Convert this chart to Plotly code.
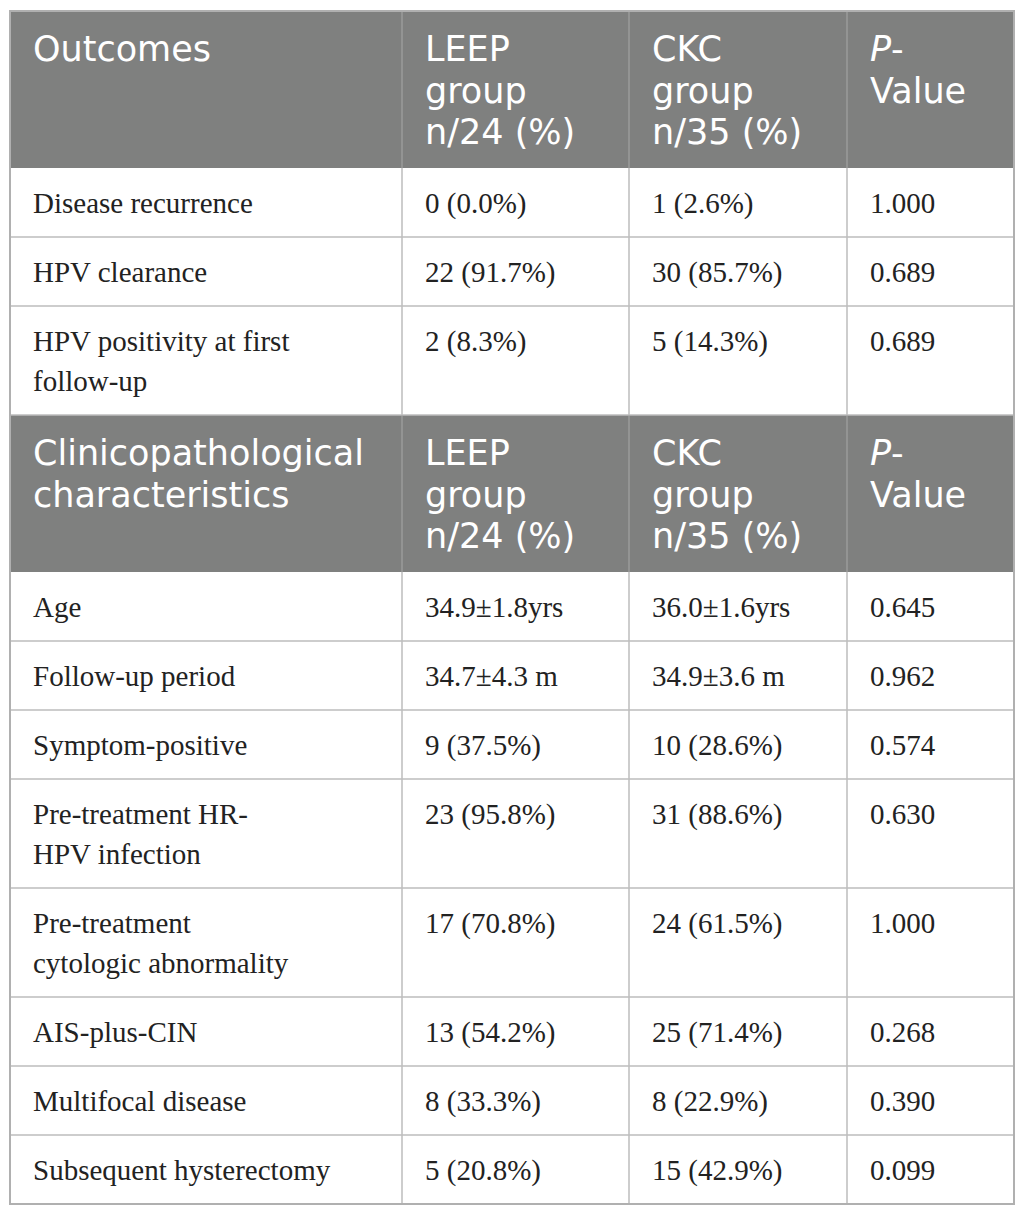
import plotly.graph_objects as go

# table content
header_outcomes = ["Outcomes", "LEEP<br>group<br>n/24 (%)", "CKC<br>group<br>n/35 (%)", "<i>P</i>-<br>Value"]
outcome_labels = ["Disease recurrence", "HPV clearance", "HPV positivity at first<br>follow-up"]
outcome_leep = ["0 (0.0%)", "22 (91.7%)", "2 (8.3%)"]
outcome_ckc = ["1 (2.6%)", "30 (85.7%)", "5 (14.3%)"]
outcome_p = ["1.000", "0.689", "0.689"]

header_clin = ["Clinicopathological<br>characteristics", "LEEP<br>group<br>n/24 (%)",
               "CKC<br>group<br>n/35 (%)", "<i>P</i>-<br>Value"]
clin_labels = ["Age", "Follow-up period", "Symptom-positive", "Pre-treatment HR-<br>HPV infection",
               "Pre-treatment<br>cytologic abnormality", "AIS-plus-CIN", "Multifocal disease",
               "Subsequent hysterectomy"]
clin_leep = ["34.9±1.8yrs", "34.7±4.3 m", "9 (37.5%)", "23 (95.8%)", "17 (70.8%)",
             "13 (54.2%)", "8 (33.3%)", "5 (20.8%)"]
clin_ckc = ["36.0±1.6yrs", "34.9±3.6 m", "10 (28.6%)", "31 (88.6%)", "24 (61.5%)",
            "25 (71.4%)", "8 (22.9%)", "15 (42.9%)"]
clin_p = ["0.645", "0.962", "0.574", "0.630", "1.000", "0.268", "0.390", "0.099"]

# layout settings (page pixels); the html body has an 8px margin
PAGE_W, PAGE_H = 1025, 1217
BODY_MARGIN = 8
col_edges = [10, 402, 629, 847, 1014]
top = 11
pad_x = 22
body_row = 69
body_line = 40
head_row = 157
head_line = 41.5
head_gray = "#7f807f"
grid = "#bcbcbc"
serif = "Liberation Serif"
sans = "DejaVu Sans"

shapes = []
annotations = []


def add_text(x, y, txt, font, size, color):
    annotations.append(dict(x=x, y=y, xref="x", yref="y", text=txt, showarrow=False,
                            xanchor="left", yanchor="middle", borderpad=0,
                            font=dict(family=font, size=size, color=color)))


def add_block(y0, header, columns):
    # header band
    n_head = max(h.count("<br>") + 1 for h in header)
    h_bot = y0 + head_row + head_line * (n_head - 3)
    shapes.append(dict(type="rect", x0=col_edges[0], x1=col_edges[-1], y0=y0, y1=h_bot,
                       fillcolor=head_gray, line_width=0, layer="below"))
    for c, h in enumerate(header):
        for i, part in enumerate(h.split("<br>")):
            add_text(col_edges[c] + pad_x, y0 + 38 + head_line * i, part, sans, 35, "white")
    for xe in col_edges[1:-1]:
        shapes.append(dict(type="line", x0=xe, x1=xe, y0=y0, y1=h_bot,
                           line=dict(color="#a8a8a8", width=1)))
    # body rows
    y = h_bot
    for r in range(len(columns[0])):
        n_lines = max(col[r].count("<br>") + 1 for col in columns)
        rh = body_row + body_line * (n_lines - 1)
        for c, col in enumerate(columns):
            for i, part in enumerate(col[r].split("<br>")):
                add_text(col_edges[c] + pad_x, y + 35 + body_line * i, part, serif, 29, "#222222")
        for xe in col_edges[1:-1]:
            shapes.append(dict(type="line", x0=xe, x1=xe, y0=y, y1=y + rh,
                               line=dict(color=grid, width=1.5)))
        y += rh
        shapes.append(dict(type="line", x0=col_edges[0], x1=col_edges[-1], y0=y, y1=y,
                           line=dict(color=grid, width=1.5)))
    return y


y_end = add_block(top, header_outcomes, [outcome_labels, outcome_leep, outcome_ckc, outcome_p])
y_end = add_block(y_end, header_clin, [clin_labels, clin_leep, clin_ckc, clin_p])

# outer frame
shapes.append(dict(type="rect", x0=col_edges[0], x1=col_edges[-1], y0=top, y1=y_end,
                   line=dict(color="#b0b0b0", width=2)))

fig = go.Figure()
fig.update_layout(
    width=PAGE_W - 2 * BODY_MARGIN, height=PAGE_H - 2 * BODY_MARGIN,
    margin=dict(l=0, r=0, t=0, b=0),
    paper_bgcolor="white", plot_bgcolor="white",
    xaxis=dict(range=[BODY_MARGIN, PAGE_W - BODY_MARGIN], visible=False, fixedrange=True),
    yaxis=dict(range=[PAGE_H - BODY_MARGIN, BODY_MARGIN], visible=False, fixedrange=True),
    shapes=shapes, annotations=annotations,
    showlegend=False,
)

fig.write_html("out.html")
